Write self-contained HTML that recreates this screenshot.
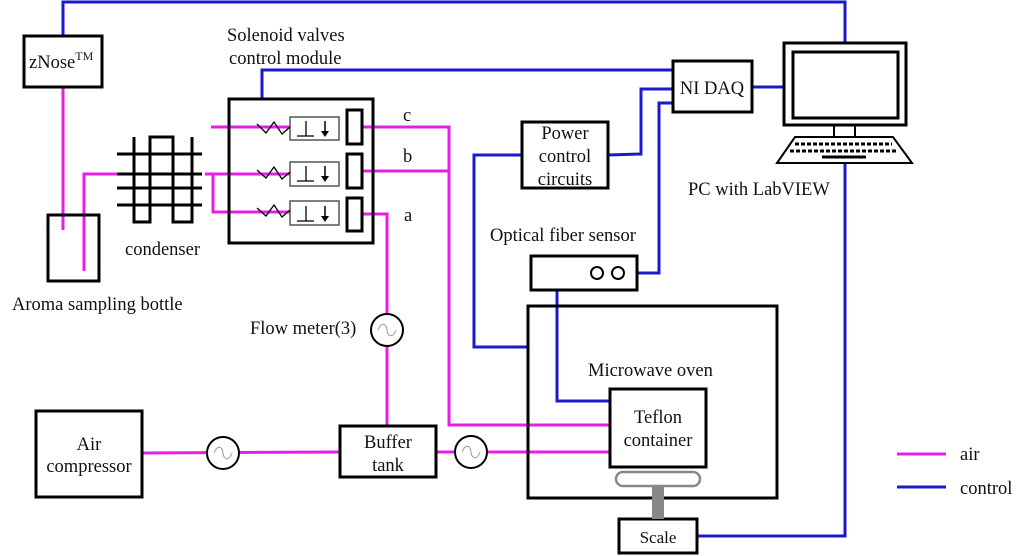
<!DOCTYPE html>
<html><head><meta charset="utf-8"><style>
html,body{margin:0;padding:0;background:#fff}
svg{display:block}
text{font-family:"Liberation Serif","DejaVu Serif","Times New Roman",serif;font-size:18.5px;fill:#111}
</style></head><body>
<svg width="1024" height="556" viewBox="0 0 1024 556" xmlns="http://www.w3.org/2000/svg" font-family="Liberation Serif, DejaVu Serif, serif">
<g fill="none" stroke="#1a1acc" stroke-width="3">
<polyline points="63,36 63,2 845,2 845,43"/>
<polyline points="262,99 262,70 673,70"/>
<line x1="752" y1="87" x2="784" y2="87"/>
<polyline points="522,155 474,155 474,347 528,347"/>
<polyline points="608,155 641,154 641,89 673,89"/>
<polyline points="673,103 659,103 659,273 637,273"/>
<polyline points="557,290 557,401 626,401"/>
<polyline points="845,163 845,536 697,536"/>
<line x1="897" y1="487" x2="946" y2="487"/>
</g>
<g fill="none" stroke="#e81ee8" stroke-width="3">
<line x1="63" y1="87" x2="63" y2="230"/>
<polyline points="84,271 84,174 120,174"/>
<line x1="205" y1="174" x2="290" y2="174"/>
<line x1="211" y1="127" x2="290" y2="127"/>
<polyline points="213,174 213,212 290,212"/>
<polyline points="361,127 449,127 449,425 626,425"/>
<line x1="361" y1="171" x2="449" y2="171"/>
<polyline points="361,214 387,214 387,426"/>
<line x1="142" y1="453" x2="340" y2="452"/>
<line x1="436" y1="452" x2="626" y2="452"/>
<line x1="897" y1="454" x2="946" y2="454"/>
</g>
<g fill="none" stroke="#000" stroke-width="3">
<rect x="24" y="36" width="78" height="51" fill="#fff"/>
<rect x="48" y="215" width="51" height="66"/>
<line x1="117" y1="154" x2="202" y2="154"/>
<line x1="117" y1="174" x2="202" y2="174"/>
<line x1="117" y1="188" x2="202" y2="188"/>
<line x1="117" y1="205" x2="202" y2="205"/>
<polyline points="134,137 134,222 150,222 150,137 173,137 173,222 192,222 192,137"/>
<rect x="229" y="99" width="144" height="144"/>
<rect x="347" y="110" width="15" height="34" fill="#fff"/>
<rect x="347" y="154" width="15" height="34" fill="#fff"/>
<rect x="347" y="198" width="15" height="33" fill="#fff"/>
<rect x="673" y="61" width="79" height="51" fill="#fff"/>
<rect x="784" y="43" width="122" height="82" fill="#fff"/>
<rect x="793" y="52" width="105" height="66"/>
<rect x="522" y="122" width="86" height="66" fill="#fff"/>
<rect x="531" y="256" width="106" height="34" fill="#fff"/>
<rect x="528" y="306" width="249" height="192"/>
<rect x="610" y="389" width="96" height="78" fill="#fff"/>
<rect x="619" y="519" width="78" height="34" fill="#fff"/>
<rect x="340" y="426" width="96" height="51" fill="#fff"/>
<rect x="36" y="411" width="106" height="86" fill="#fff"/>
</g>
<g fill="none" stroke="#000" stroke-width="2">
<rect x="834" y="125" width="21" height="12"/>
<polygon points="795,137 893,137 912,163 777,163"/>
<circle cx="597" cy="273" r="6"/>
<circle cx="618" cy="273" r="6"/>
</g>
<g stroke="#000" stroke-width="3" stroke-dasharray="4,2">
<line x1="795" y1="144" x2="892" y2="144"/>
<line x1="790" y1="151" x2="898" y2="151"/>
</g>
<line x1="822" y1="157" x2="866" y2="157" stroke="#000" stroke-width="3"/>
<g fill="none" stroke="#555" stroke-width="1.5">
<rect x="290" y="117" width="49" height="23"/>
<rect x="290" y="162" width="49" height="24"/>
<rect x="290" y="201" width="49" height="24"/>
</g>
<g fill="none" stroke="#000" stroke-width="1.3">
<polyline points="257,124 266,133 274,122 282,134 290,127"/>
<polyline points="257,170 266,178 274,167 282,179 290,172"/>
<polyline points="257,208 266,216 274,205 282,217 290,210"/>
<path d="M297,136 H314 M306,136 V121 M297,181 H314 M306,181 V166 M297,221 H314 M306,221 V206"/>
<path d="M325,121 V134 M325,166 V179 M325,206 V219" stroke-width="1.5"/>
</g>
<g fill="#000">
<polygon points="321,131 329,131 325,137"/>
<polygon points="321,176 329,176 325,182"/>
<polygon points="321,216 329,216 325,222"/>
</g>
<g fill="#fff" stroke="#000" stroke-width="2">
<circle cx="387" cy="330" r="16"/>
<circle cx="223" cy="453" r="16"/>
<circle cx="471" cy="452" r="16"/>
</g>
<g fill="none" stroke="#999" stroke-width="1">
<path d="M378,330 C382,320 387,325 387,330 S392,340 396,330"/>
<path d="M214,453 C218,443 223,448 223,453 S228,463 232,453"/>
<path d="M462,452 C466,442 471,447 471,452 S476,462 480,452"/>
</g>
<rect x="616" y="472" width="84" height="14" rx="7" fill="#fff" stroke="#888" stroke-width="2.5"/>
<rect x="652" y="486" width="12" height="33" fill="#888"/>
<text x="29" y="68">zNose<tspan font-size="12" dy="-8">TM</tspan></text>
<text x="227" y="41">Solenoid valves</text>
<text x="229" y="64">control module</text>
<text x="403" y="121">c</text>
<text x="403" y="162">b</text>
<text x="404" y="221">a</text>
<text x="125" y="255">condenser</text>
<text x="12" y="310">Aroma sampling bottle</text>
<text x="250" y="334">Flow meter(3)</text>
<text x="712" y="94" text-anchor="middle">NI DAQ</text>
<text x="565" y="139" text-anchor="middle">Power</text>
<text x="565" y="162" text-anchor="middle">control</text>
<text x="565" y="185" text-anchor="middle">circuits</text>
<text x="688" y="195">PC with LabVIEW</text>
<text x="490" y="241">Optical fiber sensor</text>
<text x="588" y="376">Microwave oven</text>
<text x="658" y="423" text-anchor="middle">Teflon</text>
<text x="658" y="446" text-anchor="middle">container</text>
<text x="658" y="543" text-anchor="middle" style="font-size:17px">Scale</text>
<text x="388" y="448" text-anchor="middle">Buffer</text>
<text x="388" y="471" text-anchor="middle">tank</text>
<text x="89" y="450" text-anchor="middle">Air</text>
<text x="89" y="472" text-anchor="middle">compressor</text>
<text x="960" y="460">air</text>
<text x="960" y="494">control</text>
</svg>
</body></html>
